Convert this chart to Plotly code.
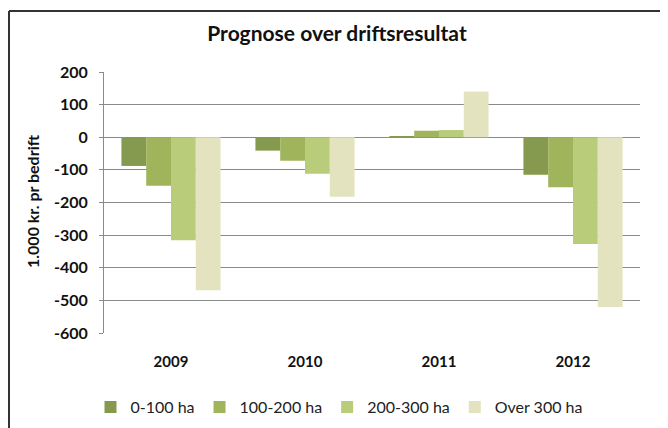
import plotly.graph_objects as go

years = ["2009", "2010", "2011", "2012"]
series_names = ["0-100 ha", "100-200 ha", "200-300 ha", "Over 300 ha"]
v_0_100 = [-88, -41, 3, -115]
v_100_200 = [-149, -72, 20, -153]
v_200_300 = [-316, -112, 22, -327]
v_over_300 = [-469, -182, 140, -520]
y_ticks = [200, 100, 0, -100, -200, -300, -400, -500, -600]

values = [v_0_100, v_100_200, v_200_300, v_over_300]
colors = ["#859a4e", "#9fb45b", "#b9cc79", "#e3e3bf"]

FONT = "Lato"
fig = go.Figure()
for name, vals, c in zip(series_names, values, colors):
    fig.add_trace(go.Bar(x=years, y=vals, name=name, marker=dict(color=c, line=dict(width=0))))

# page body has an 8px margin; work in screen pixels and shift
O = 8
W, H = 668, 428
def fx(p):  # screen px -> figure px
    return p - O

PL, PR, PT, PB = 104, 640, 72, 333  # plot area in screen px
L, R, T, B = fx(PL), W - fx(PR), fx(PT), H - fx(PB)
pw, ph = W - L - R, H - T - B

def px_x(p):
    return (fx(p) - L) / pw

def px_y(p):
    return (H - B - fx(p)) / ph

border = dict(color="#333333", width=2)
fig.update_layout(
    width=W, height=H,
    margin=dict(l=L, r=R, t=T, b=B, autoexpand=False),
    paper_bgcolor="white", plot_bgcolor="white",
    barmode="group", bargap=0.26, bargroupgap=0,
    font=dict(family=FONT, size=14, color="#222222"),
    title=dict(text="<b>Prognose over driftsresultat</b>", x=fx(337) / W, xanchor="center", xref="container",
               y=1 - fx(34) / H, yanchor="middle", yref="container",
               font=dict(size=21, family=FONT, color="#111111")),
    showlegend=True,
    legend=dict(orientation="h", xref="container", yref="container", x=fx(339) / W, xanchor="center",
                y=1 - fx(407) / H, yanchor="middle",
                font=dict(size=16, family=FONT, color="#222222"), traceorder="normal",
                itemwidth=30, bgcolor="rgba(0,0,0,0)"),
    xaxis=dict(showgrid=False, showline=False, ticks="", automargin=False,
               tickfont=dict(size=15, family=FONT, color="#111111"),
               tickprefix="<b>", ticksuffix="</b>", ticklabelstandoff=18),
    yaxis=dict(range=[-600, 200], tickvals=y_ticks, ticktext=[f"<b>{v}</b>" for v in y_ticks],
               automargin=False,
               showgrid=True, gridcolor="#8a8a8a", gridwidth=1, zeroline=True, zerolinecolor="#8a8a8a",
               zerolinewidth=1, showline=True, linecolor="#8a8a8a", linewidth=1, ticks="outside",
               ticklen=4, tickcolor="#8a8a8a", ticklabelstandoff=8,
               tickfont=dict(size=16, family=FONT, color="#111111")),
    annotations=[dict(text="<b>1.000 kr. pr bedrift</b>", xref="paper", yref="paper",
                      x=px_x(32), y=px_y(201), xanchor="center", yanchor="middle", textangle=-90,
                      showarrow=False, font=dict(size=16, family=FONT, color="#111111"))],
    shapes=[
        dict(type="line", xref="paper", yref="paper", x0=px_x(9), x1=px_x(676), y0=px_y(11), y1=px_y(11),
             line=border, layer="below"),
        dict(type="line", xref="paper", yref="paper", x0=px_x(9), x1=px_x(9), y0=px_y(11), y1=px_y(440),
             line=border, layer="below"),
    ],
)

fig.write_html("out.html")
